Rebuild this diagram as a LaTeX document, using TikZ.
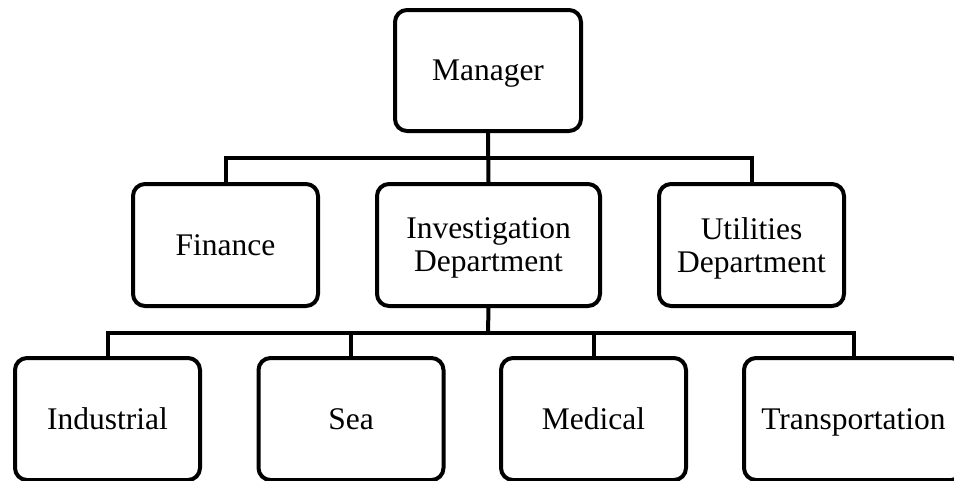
\documentclass[tikz,border=0pt]{standalone}
\usepackage{fontspec}
\setmainfont{Liberation Serif}
\tikzset{box/.style={draw, line width=4pt, rounded corners=12pt, align=center, font=\fontsize{31.5}{33}\selectfont, text depth=0pt, minimum height=122pt, minimum width=185pt, inner sep=2pt}}
\tikzset{link/.style={line width=4pt}}

\begin{document}
\begin{tikzpicture}[x=1pt, y=-1pt]
            \useasboundingbox (0,0) rectangle (954,480);
            \clip (0,0) rectangle (954,480);
            \node[box, minimum width=186pt, minimum height=121pt] (M) at (488,70.5) {Manager};
            \node[box] (F) at (225.5,245) {Finance};
            \node[box, minimum width=223pt] (I) at (488.5,245) {Investigation\\Department};
            \node[box] (U) at (751.5,245) {Utilities\\Department};
            \node[box] (Ind) at (107.5,419) {Industrial};
            \node[box] (Sea) at (351,419) {Sea};
            \node[box] (Med) at (593.5,419) {Medical};
            \node[box, minimum width=219pt] (Tr) at (853.5,419) {Transportation};
            \coordinate (B1) at (488,158);
            \coordinate (B2) at (488,333);
            \draw[link] (M.south) -- (I.north);
            \draw[link] (F.north) |- (B1) -| (U.north);
            \draw[link] (I.south) -- (B2);
            \draw[link] (Ind.north) |- (B2) -| (Tr.north);
            \draw[link] (Sea.north) -- (Sea.north |- B2);
            \draw[link] (Med.north) -- (Med.north |- B2);
        \end{tikzpicture}
\end{document}
